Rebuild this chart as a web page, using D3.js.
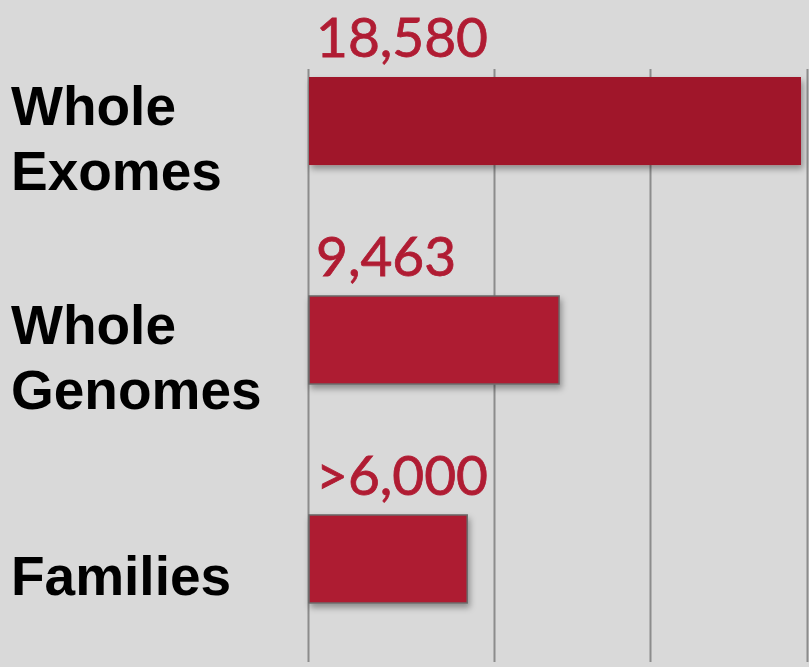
<!DOCTYPE html>
<html>
<head>
<meta charset="utf-8">
<script src="https://cdn.jsdelivr.net/npm/d3@7"></script>
<style>
  html, body { margin: 0; padding: 0; background: #d9d9d9; }
  svg { display: block; }
</style>
</head>
<body>
<script>
// Cohort sizes
const categories = ["Whole Exomes", "Whole Genomes", "Families"];
const labelLines = [["Whole", "Exomes"], ["Whole", "Genomes"], ["Families"]];
const values = [18580, 9463, 6000];
const valueLabels = ["18,580", "9,463", ">6,000"];
const gridTicks = [0, 7000, 12900, 18800];

const W = 809, H = 667;
const svg = d3.select("body").append("svg").attr("width", W).attr("height", H);
svg.append("rect").attr("width", W).attr("height", H).attr("fill", "#d9d9d9");

const defs = svg.append("defs");
const f = defs.append("filter").attr("id", "shadow")
  .attr("x", "-5%").attr("y", "-10%").attr("width", "115%").attr("height", "130%");
f.append("feDropShadow").attr("dx", 2).attr("dy", 4).attr("stdDeviation", 3)
  .attr("flood-color", "#000").attr("flood-opacity", 0.35);

const x = d3.scaleLinear().domain([0, 18580]).range([308, 801]);
const y = d3.scaleBand().domain(categories).range([77, 603]).paddingInner(0.598).paddingOuter(0);

// vertical grid lines
svg.append("g").selectAll("line").data(gridTicks).join("line")
  .attr("x1", d => Math.round(x(d)) + 0.5).attr("x2", d => Math.round(x(d)) + 0.5)
  .attr("y1", 69).attr("y2", 662)
  .attr("stroke", "#8c8c8c").attr("stroke-width", 2);

// bars
svg.append("g").selectAll("rect").data(categories).join("rect")
  .attr("x", x(0) + 1)
  .attr("y", d => y(d))
  .attr("width", (d, i) => x(values[i]) - x(0) - 1)
  .attr("height", y.bandwidth())
  .attr("fill", (d, i) => i === 0 ? "#a0182a" : "#ae1c33")
  .attr("stroke", (d, i) => i === 0 ? "none" : "#6a6a6a")
  .attr("stroke-width", 1.5)
  .attr("filter", "url(#shadow)");

// value labels
svg.append("g").selectAll("text").data(categories).join("text")
  .attr("x", x(0) + 8)
  .attr("y", d => y(d) - 20)
  .attr("font-family", "Lato, sans-serif")
  .attr("font-weight", 400)
  .attr("font-size", 55)
  .attr("fill", "#b01c33")
  .attr("stroke", "#b01c33")
  .attr("stroke-width", 0.8)
  .text((d, i) => valueLabels[i]);

// category labels, one text element per category with a tspan per line
const lineGap = 65;
const labels = svg.append("g");
categories.forEach((c, i) => {
  const lines = labelLines[i];
  const mid = y(c) + y.bandwidth() / 2 + 36;
  const first = mid - (lines.length - 1) * lineGap / 2;
  const t = labels.append("text")
    .attr("font-family", "'Liberation Sans', Arial, sans-serif")
    .attr("font-weight", 700)
    .attr("font-size", 55)
    .attr("fill", "#000");
  lines.forEach((s, j) => {
    t.append("tspan").attr("x", 11).attr("y", first + j * lineGap).text(s);
  });
});
</script>
</body>
</html>
